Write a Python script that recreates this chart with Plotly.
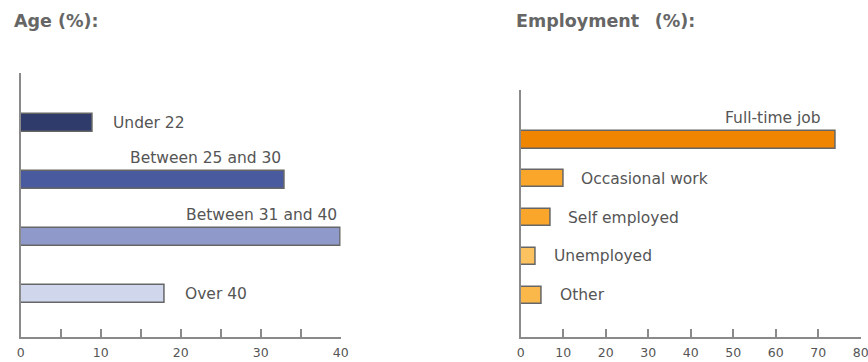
import plotly.graph_objects as go
from plotly.subplots import make_subplots

# ---- data ----
age_title = "Age (%):"
age_categories = ["Under 22", "Between 25 and 30", "Between 31 and 40", "Over 40"]
age_values = [9, 33, 40, 18]
age_colors = ["#2f3b6b", "#4a5a9f", "#8f9acb", "#d0d6ec"]

emp_title = "Employment  (%):"
emp_categories = ["Full-time job", "Occasional work", "Self employed", "Unemployed", "Other"]
emp_values = [74, 10, 7, 3.5, 5]
emp_colors = ["#ef8500", "#f9a62b", "#f9a62b", "#fcc25f", "#fbb84a"]

W, H = 868, 362
FONT = "DejaVu Sans"
TXT = "#555555"
AX = "#8a8a8a"


def px(xv):
    return xv / W


def py(yv):
    return 1 - yv / H


fig = make_subplots(rows=1, cols=2)

panels = [
    dict(cats=age_categories, vals=age_values, cols=age_colors, col=1,
         xdom=[px(20.7), px(340.7)], ydom=[py(337), py(73)],
         xmax=40, dtick=10, minor=5, width=0.32,
         yrange=[3.754, -0.877], above_shift=-2, side_shift=18),
    dict(cats=emp_categories, vals=emp_values, cols=emp_colors, col=2,
         xdom=[px(520.7), px(860.7)], ydom=[py(336.7), py(90)],
         xmax=80, dtick=10, minor=10, width=0.44,
         yrange=[5.075, -1.29], above_shift=-12, side_shift=16),
]

annotations = []
for i, p in enumerate(panels):
    fig.add_trace(go.Bar(
        x=p["vals"], y=p["cats"], orientation="h",
        marker=dict(color=p["cols"], line=dict(color="#666666", width=1.5)),
        width=p["width"], showlegend=False, hoverinfo="x+y",
    ), row=1, col=p["col"])
    xa = "x" if i == 0 else "x2"
    ya = "y" if i == 0 else "y2"
    for c, v in zip(p["cats"], p["vals"]):
        above = v > 0.6 * p["xmax"]
        if above:
            annotations.append(dict(x=v, y=c, xref=xa, yref=ya, text=c,
                                    showarrow=False, xanchor="right", yanchor="middle",
                                    xshift=p["above_shift"], yshift=22,
                                    font=dict(family=FONT, size=15.5, color=TXT)))
        else:
            annotations.append(dict(x=v, y=c, xref=xa, yref=ya, text=c,
                                    showarrow=False, xanchor="left", yanchor="middle",
                                    xshift=p["side_shift"],
                                    font=dict(family=FONT, size=15.5, color=TXT)))
    axis_suffix = "" if i == 0 else "2"
    fig.layout["xaxis" + axis_suffix].update(
        domain=p["xdom"], range=[0, p["xmax"]], dtick=p["dtick"], tick0=0,
        ticks="inside", ticklen=8, tickwidth=1.5, tickcolor=AX,
        minor=dict(dtick=p["minor"], tick0=0, ticks="inside", ticklen=8,
                   tickwidth=1.5, tickcolor=AX),
        showline=True, linecolor=AX, linewidth=2, showgrid=False, zeroline=False,
        tickfont=dict(family=FONT, size=12.5, color=TXT), automargin=False,
        ticklabeloverflow="allow", ticklabelstandoff=3,
        fixedrange=True,
    )
    fig.layout["yaxis" + axis_suffix].update(
        domain=p["ydom"], type="category", categoryorder="array",
        categoryarray=p["cats"], range=p["yrange"],
        showticklabels=False, ticks="", showline=True, linecolor=AX, linewidth=2,
        showgrid=False, zeroline=False, automargin=False, fixedrange=True,
    )

annotations.append(dict(x=px(12), y=py(21), xref="paper", yref="paper",
                        text="<b>" + age_title + "</b>", showarrow=False,
                        xanchor="left", yanchor="middle",
                        font=dict(family=FONT, size=17.5, color="#666666")))
annotations.append(dict(x=px(514), y=py(21), xref="paper", yref="paper",
                        text="<b>" + emp_title.replace("  ", "&nbsp;\u2009 ") + "</b>",
                        showarrow=False, xanchor="left", yanchor="middle",
                        font=dict(family=FONT, size=17.5, color="#666666")))

fig.update_layout(
    width=W, height=H, margin=dict(l=0, r=0, t=0, b=0),
    paper_bgcolor="white", plot_bgcolor="white",
    annotations=annotations, bargap=0,
)

fig.write_html("out.html", config={"displayModeBar": False},
               post_script="document.body.style.margin='0';document.body.style.overflow='hidden';")
